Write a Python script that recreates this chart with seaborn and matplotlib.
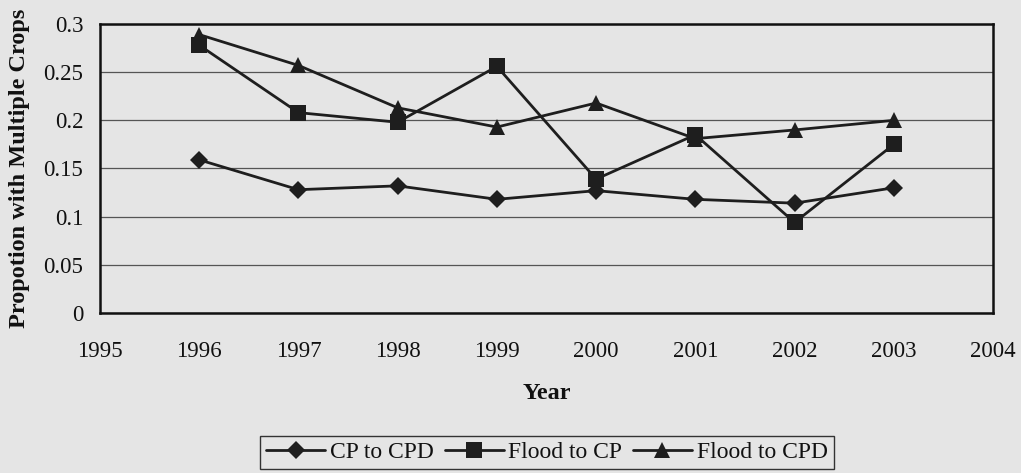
import matplotlib
matplotlib.use("Agg")
import matplotlib.pyplot as plt
from matplotlib.ticker import FuncFormatter, MultipleLocator
import numpy as np
import pandas as pd
import seaborn as sns

# Share of households growing multiple crops, by transition type
years = [1996, 1997, 1998, 1999, 2000, 2001, 2002, 2003]
cp_to_cpd = [0.159, 0.128, 0.132, 0.118, 0.127, 0.118, 0.114, 0.130]
flood_to_cp = [0.278, 0.208, 0.198, 0.256, 0.139, 0.185, 0.094, 0.175]
flood_to_cpd = [0.289, 0.257, 0.213, 0.193, 0.218, 0.181, 0.190, 0.200]
series_names = ["CP to CPD", "Flood to CP", "Flood to CPD"]

df = pd.DataFrame({
    "Year": years * 3,
    "value": cp_to_cpd + flood_to_cp + flood_to_cpd,
    "series": np.repeat(series_names, len(years)),
})

BG = "#e5e5e5"
INK = "#1e1e1e"

sns.set_style("white")
plt.rcParams["font.family"] = ["Liberation Serif", "DejaVu Serif"]
plt.rcParams["font.size"] = 16.5

fig = plt.figure(figsize=(10.21, 4.73), dpi=100, facecolor=BG)
ax = fig.add_axes([100 / 1021, 1 - 313 / 473, 893 / 1021, 289 / 473])
ax.set_facecolor(BG)

markers = {"CP to CPD": "D", "Flood to CP": "s", "Flood to CPD": "^"}
sizes = {"CP to CPD": 9.5, "Flood to CP": 11.5, "Flood to CPD": 11.5}
palette = {name: INK for name in series_names}
sns.lineplot(
    data=df, x="Year", y="value", hue="series", style="series",
    hue_order=series_names, style_order=series_names,
    palette=palette, markers=markers, dashes=False,
    linewidth=2.0, markersize=11.5, markeredgewidth=0,
    ax=ax, legend=False, zorder=3,
)
# diamonds are a little smaller than the other marks
for line in ax.lines:
    if line.get_marker() == "D":
        line.set_markersize(sizes["CP to CPD"])

ax.set_xlim(1995, 2004)
ax.set_ylim(0, 0.3)
ax.xaxis.set_major_locator(MultipleLocator(1))
ax.yaxis.set_major_locator(MultipleLocator(0.05))
ax.yaxis.set_major_formatter(FuncFormatter(lambda v, _: f"{v:g}"))

ax.grid(axis="y", color="#555555", linewidth=0.9, zorder=1)
ax.grid(axis="x", visible=False)
for spine in ax.spines.values():
    spine.set_visible(True)
    spine.set_color("#111111")
    spine.set_linewidth(1.8)

ax.tick_params(axis="both", direction="out", width=1.0,
               color="#111111", labelsize=16.5, labelcolor="#111111")
ax.tick_params(axis="x", length=5.5, pad=15)
ax.tick_params(axis="y", length=5, pad=7)

ax.set_xlabel("Year", fontsize=17.5, fontweight="bold", color="#111111")
ax.set_ylabel("Propotion with Multiple Crops", fontsize=17.5,
              fontweight="bold", color="#111111")
ax.xaxis.label.set_va("center")
ax.yaxis.label.set_va("center")
ax.xaxis.set_label_coords(0.5, -(393 - 313) / 289)
ax.yaxis.set_label_coords(-(100 - 19.5) / 893, 0.5)

# legend handles mirror the plotted series
handles = []
for name in series_names:
    (h,) = ax.plot([], [], color=INK, marker=markers[name],
                   markersize=sizes[name], markeredgewidth=0, linewidth=2.0)
    handles.append(h)
leg = fig.legend(
    handles, series_names, loc="upper center",
    bbox_to_anchor=(547 / 1021, 1 - 436 / 473), ncol=3,
    frameon=True, fancybox=False, edgecolor="#333333", facecolor=BG,
    framealpha=1, fontsize=17, handlelength=2.5, handletextpad=0.2,
    columnspacing=0.45, borderpad=0.25, borderaxespad=0,
)
leg.get_frame().set_linewidth(1.0)
for t in leg.get_texts():
    t.set_color("#111111")

fig.savefig("out.png", dpi=100, facecolor=BG)
